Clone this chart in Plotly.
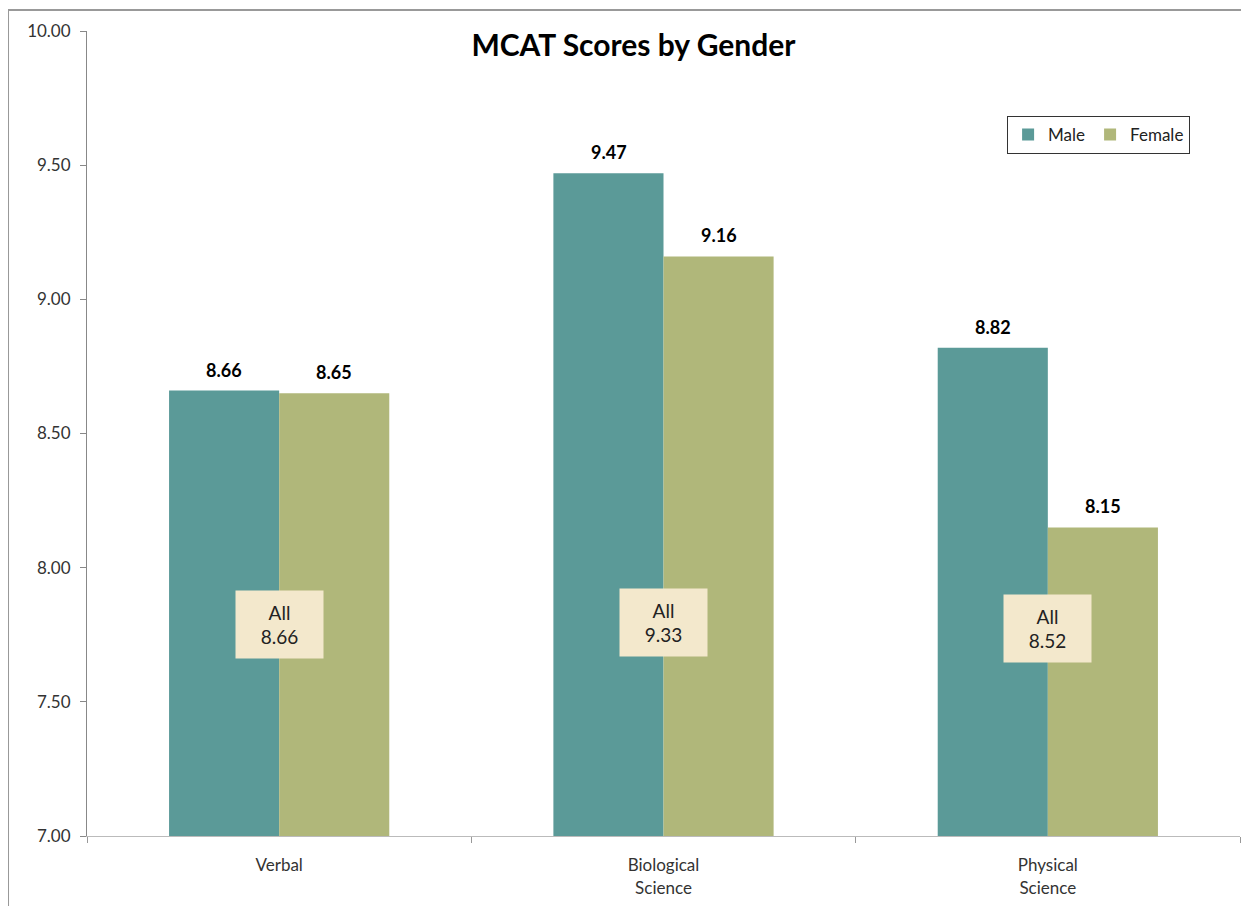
import plotly.graph_objects as go

categories = ["Verbal", "Biological<br>Science", "Physical<br>Science"]
male = [8.66, 9.47, 8.82]
female = [8.65, 9.16, 8.15]
all_scores = [8.66, 9.33, 8.52]
all_label_y = [7.79, 7.795, 7.775]

MALE_C = "#5B9A98"
FEMALE_C = "#B0B77A"
FONT = "Lato"

fig = go.Figure()
fig.add_trace(go.Bar(x=categories, y=male, name="Male", marker_color=MALE_C, marker_line_width=0))
fig.add_trace(go.Bar(x=categories, y=female, name="Female", marker_color=FEMALE_C, marker_line_width=0))

# value labels above bars
for vals, dx in ((male, -55), (female, 55)):
    for c, v in zip(categories, vals):
        fig.add_annotation(x=c, y=v, xref="x", yref="y", text=f"<b>{v:.2f}</b>",
                           showarrow=False, xshift=dx, yshift=8, yanchor="bottom",
                           font=dict(family=FONT, size=18, color="black"))

for c, v, yy in zip(categories, all_scores, all_label_y):
    fig.add_annotation(
        x=c, y=yy, xref="x", yref="y", text=f"All<br>{v:.2f}", showarrow=False,
        font=dict(family=FONT, size=19, color="#222"), bgcolor="#F3E8CC",
        width=79, height=59, borderpad=4, align="center",
    )

# outer chart border
fig.add_shape(type="rect", xref="paper", yref="paper",
              x0=-0.0685, y0=-0.15, x1=1.05, y1=1.026,
              line=dict(color="#999999", width=2), fillcolor="rgba(0,0,0,0)", layer="below")

fig.update_layout(
    width=1241, height=898,
    margin=dict(l=79, r=9, t=23, b=70),
    paper_bgcolor="white", plot_bgcolor="white",
    barmode="group", bargap=0.427, bargroupgap=0,
    title=dict(text="<b>MCAT Scores by Gender</b>", x=0.504, xanchor="center",
               xref="container", y=0.9577, yanchor="middle",
               font=dict(family=FONT, size=30, color="black")),
    font=dict(family=FONT, color="#333"),
    legend=dict(orientation="h", x=0.798, y=0.871, xanchor="left", yanchor="middle",
                bordercolor="#333", borderwidth=1, bgcolor="white",
                font=dict(family=FONT, size=17, color="#222"),
                itemwidth=30, traceorder="normal"),
    showlegend=True,
)
fig.update_xaxes(type="category", showline=True, linecolor="#BBBBBB", linewidth=1,
                 ticks="outside", tickson="boundaries", ticklen=6, tickcolor="#999",
                 tickfont=dict(family=FONT, size=17, color="#333"), showgrid=False,
                 ticklabelstandoff=14)
fig.update_yaxes(range=[7, 10], dtick=0.5, tickformat=".2f", showline=True,
                 linecolor="#888888", linewidth=1, ticks="outside", ticklen=6,
                 tickcolor="#888", tickfont=dict(family=FONT, size=17, color="#333"),
                 showgrid=False, zeroline=False, ticklabelstandoff=6)

fig.write_html("out.html")
